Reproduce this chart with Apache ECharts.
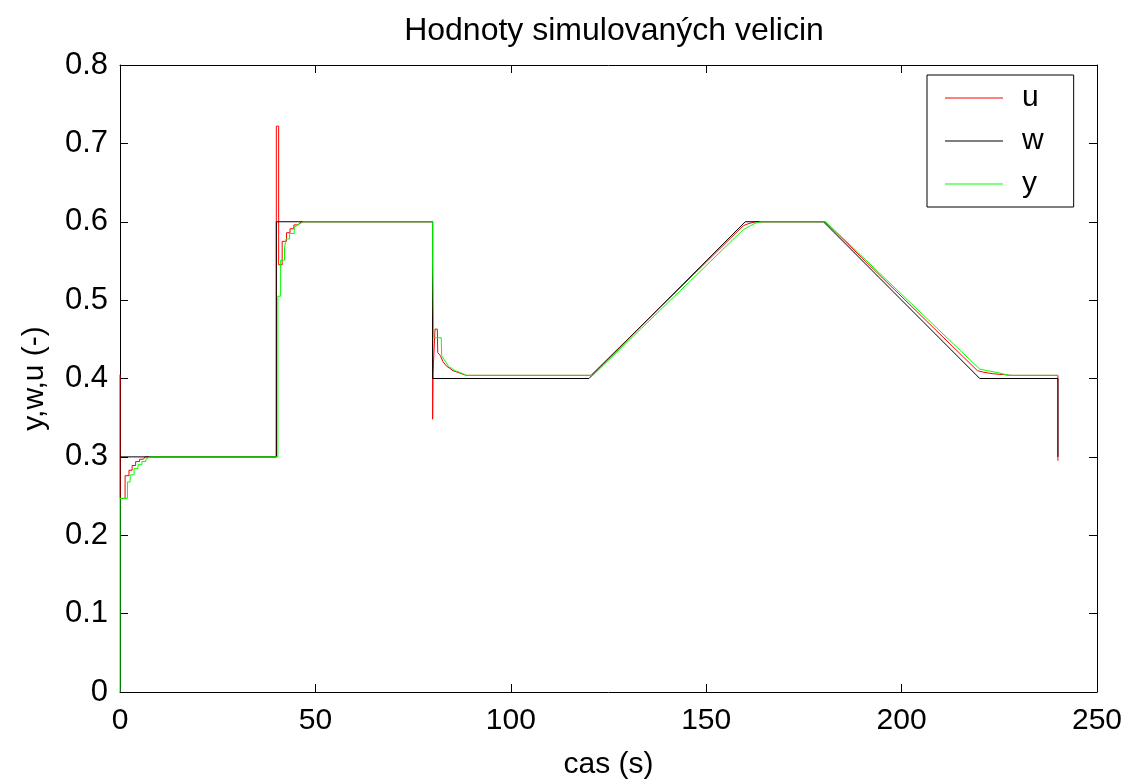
<!DOCTYPE html>
<html>
<head>
<meta charset="utf-8">
<script src="https://cdn.jsdelivr.net/npm/echarts@6/dist/echarts.min.js"></script>
<style>html,body{margin:0;padding:0;background:#fff;}#c{width:1141px;height:783px;}</style>
</head>
<body>
<div id="c"></div>
<script>
// time (s), value pairs
var uData = [
  [0,0.405],[0,0.247],[1.3,0.247],[1.3,0.276],[2.3,0.276],[2.3,0.283],[3.1,0.283],[3.1,0.289],[4,0.289],[4,0.294],[5,0.294],[5,0.297],[6,0.297],[6.4,0.3],
  [40,0.3],[40,0.722],[40.6,0.722],[40.6,0.545],[41.5,0.545],[41.5,0.575],[42.6,0.575],[42.6,0.586],[43.5,0.586],[43.5,0.591],[44.5,0.591],[44.5,0.596],[45.5,0.596],[46.4,0.6],
  [80,0.6],[80,0.348],[80.1,0.348],[80.1,0.407],[80.6,0.407],[80.6,0.463],[81.2,0.463],[81.3,0.433],[82,0.429],[82.6,0.422],[83.5,0.416],[85.2,0.41],[86.9,0.407],[88.6,0.404],
  [120.5,0.404],[159.5,0.595],[160.5,0.597],[162.5,0.6],
  [180.4,0.6],[219.4,0.41],[221,0.408],[223.5,0.406],[226,0.405],[228,0.404],[240,0.404],[240,0.295]
];
var wData = [
  [0,0.3],[40,0.3],[40,0.6],[80,0.6],[80,0.4],[120,0.4],[160,0.6],[180,0.6],[220,0.4],[240,0.4],[240,0.3]
];
var yData = [
  [0,0],[0,0.247],[1.9,0.247],[1.9,0.268],[2.6,0.268],[2.6,0.277],[3.6,0.277],[3.6,0.285],[4.6,0.285],[4.6,0.29],[5.6,0.29],[5.6,0.294],[6.6,0.294],[6.6,0.297],[7.7,0.3],
  [40.4,0.3],[40.4,0.505],[41.1,0.505],[41.1,0.551],[42.1,0.551],[42.1,0.567],[42.5,0.567],[42.5,0.578],[43.4,0.578],[43.4,0.585],[44.6,0.585],[44.6,0.593],[45.9,0.597],[46.8,0.6],
  [80,0.6],[80,0.546],[80.3,0.546],[80.3,0.452],[82.2,0.452],[82.3,0.429],[83.5,0.42],[84,0.416],[85.7,0.41],[86.9,0.408],[88.6,0.404],
  [121,0.404],[159.5,0.59],[161,0.594],[162.5,0.598],[164,0.6],
  [180.6,0.6],[220,0.412],[222,0.41],[225,0.407],[227.5,0.404],[240,0.404]
];
var seriesNames = ['u','w','y'];
var seriesColors = ['#ff0000','#000000','#00ff00'];
var xMin = 0, xMax = 250, xStep = 50;
var yMin = 0, yMax = 0.8, yStep = 0.1;
var titleText = 'Hodnoty simulovaných velicin';
var xName = 'cas (s)';
var yName = 'y,w,u (-)';

var font = 'Liberation Sans, Arial, sans-serif';
var chart = echarts.init(document.getElementById('c'), null, {renderer:'canvas'});
function tick(){ return {show:true, inside:true, length:8, lineStyle:{color:'#000', width:1}}; }
function aline(){ return {show:true, onZero:false, lineStyle:{color:'#000', width:1}}; }
function fmtY(v){ return v === 0 ? '0' : (Math.round(v*10)/10).toString(); }
var option = {
  backgroundColor:'#fff',
  animation:false,
  title:{text:titleText, left:609, textAlign:'center', top:10,
    textStyle:{fontFamily:font, fontSize:32, fontWeight:'normal', color:'#000'}},
  grid:{left:120, right:44, top:65, bottom:91, containLabel:false, outerBoundsMode:'none'},
  legend:{
    data:seriesNames, orient:'vertical', left:927, top:75,
    borderColor:'#000', borderWidth:1, backgroundColor:'#fff',
    padding:[8,30,8,18], itemGap:13, itemWidth:58, itemHeight:1,
    icon:'rect',
    textStyle:{fontFamily:font, fontSize:30, color:'#000', padding:[0,0,0,14], lineHeight:30}
  },
  xAxis:[
    {type:'value', min:xMin, max:xMax, interval:xStep, position:'bottom',
     name:xName, nameLocation:'middle', nameGap:58,
     nameTextStyle:{fontFamily:font, fontSize:30, color:'#000'},
     axisLine:aline(), axisTick:tick(), splitLine:{show:false},
     axisLabel:{fontFamily:font, fontSize:30, color:'#000', margin:14}},
    {type:'value', min:xMin, max:xMax, interval:xStep, position:'top',
     axisLine:aline(), axisTick:tick(), splitLine:{show:false},
     axisLabel:{show:false}}
  ],
  yAxis:[
    {type:'value', min:yMin, max:yMax, interval:yStep, position:'left',
     name:yName, nameLocation:'middle', nameGap:70, nameRotate:90,
     nameTextStyle:{fontFamily:font, fontSize:30, color:'#000'},
     axisLine:aline(), axisTick:tick(), splitLine:{show:false},
     axisLabel:{fontFamily:font, fontSize:31, color:'#000', margin:12, formatter:fmtY}},
    {type:'value', min:yMin, max:yMax, interval:yStep, position:'right',
     axisLine:aline(), axisTick:tick(), splitLine:{show:false},
     axisLabel:{show:false}}
  ],
  series:[
    {name:seriesNames[0], type:'line', data:uData, showSymbol:false, symbol:'none',
     lineStyle:{color:seriesColors[0], width:1}, itemStyle:{color:seriesColors[0]}, z:2},
    {name:seriesNames[1], type:'line', data:wData, showSymbol:false, symbol:'none',
     lineStyle:{color:seriesColors[1], width:1}, itemStyle:{color:seriesColors[1]}, z:3},
    {name:seriesNames[2], type:'line', data:yData, showSymbol:false, symbol:'none',
     lineStyle:{color:seriesColors[2], width:1}, itemStyle:{color:seriesColors[2]}, z:4}
  ]
};
chart.setOption(option);
</script>
</body>
</html>
